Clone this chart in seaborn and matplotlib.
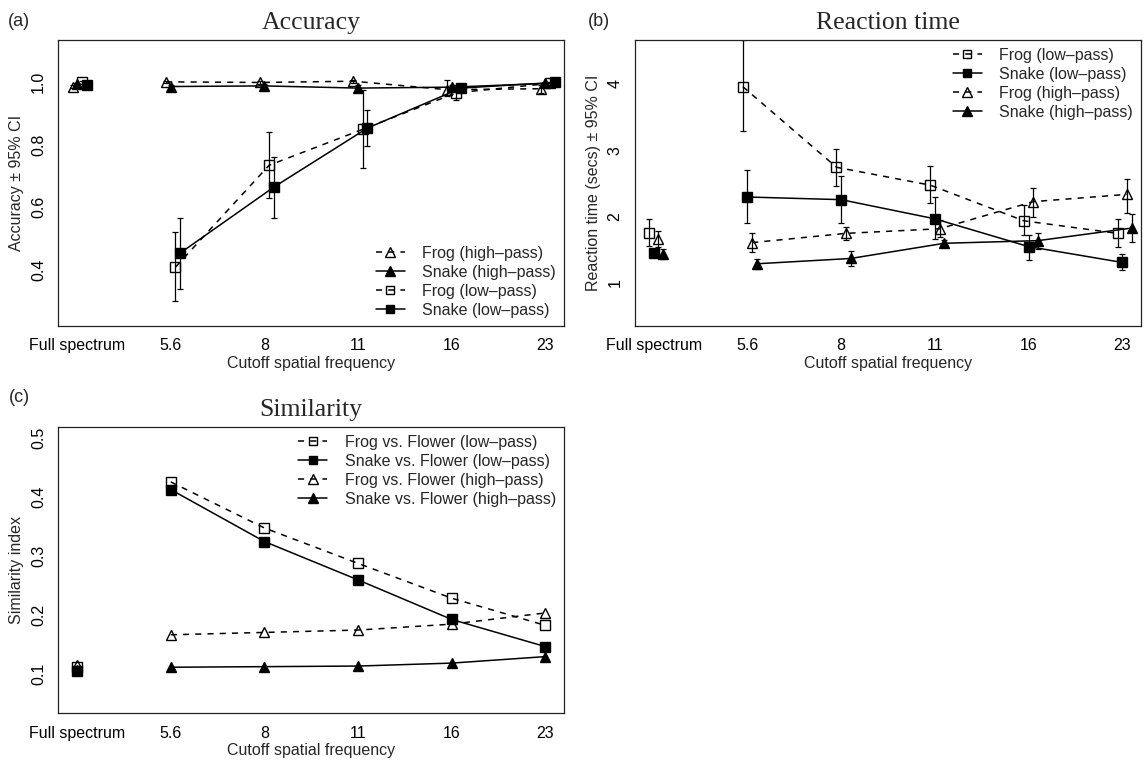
import numpy as np
import pandas as pd
import seaborn as sns
from matplotlib import pyplot as plt
from matplotlib.lines import Line2D

# カテゴリ (x軸)
cutoffs = ["Full spectrum", "5.6", "8", "11", "16", "23"]

# (a) Accuracy
acc_frog_hp = [0.985, 1.000, 0.998, 1.002, 0.975, 0.978]
acc_frog_hp_lo = [0.980, 0.995, 0.993, 0.997, 0.955, 0.965]
acc_frog_hp_hi = [0.990, 1.004, 1.002, 1.006, 1.006, 0.990]
acc_snake_hp = [0.992, 0.985, 0.987, 0.980, 0.983, 0.995]
acc_snake_hp_lo = [0.986, 0.978, 0.980, 0.970, 0.975, 0.990]
acc_snake_hp_hi = [0.997, 0.990, 0.992, 0.990, 0.990, 1.000]
acc_frog_lp = [0.998, 0.407, 0.733, 0.848, 0.965, 0.995]
acc_frog_lp_lo = [0.994, 0.297, 0.627, 0.724, 0.942, 0.990]
acc_frog_lp_hi = [1.002, 0.519, 0.840, 0.974, 0.990, 1.000]
acc_snake_lp = [0.990, 0.452, 0.663, 0.852, 0.980, 0.998]
acc_snake_lp_lo = [0.985, 0.338, 0.565, 0.796, 0.970, 0.995]
acc_snake_lp_hi = [0.995, 0.564, 0.758, 0.910, 0.990, 1.001]

# (b) Reaction time
rt_frog_lp = [1.75, 3.96, 2.74, 2.47, 1.93, 1.74]
rt_frog_lp_lo = [1.55, 3.29, 2.46, 2.20, 1.72, 1.53]
rt_frog_lp_hi = [1.95, 4.66, 3.015, 2.76, 2.17, 1.96]
rt_snake_lp = [1.44, 2.29, 2.25, 1.96, 1.54, 1.30]
rt_snake_lp_lo = [1.38, 1.90, 1.90, 1.65, 1.34, 1.18]
rt_snake_lp_hi = [1.51, 2.70, 2.61, 2.29, 1.71, 1.43]
rt_frog_hp = [1.65, 1.60, 1.74, 1.81, 2.22, 2.33]
rt_frog_hp_lo = [1.53, 1.46, 1.64, 1.69, 1.99, 2.05]
rt_frog_hp_hi = [1.78, 1.74, 1.84, 1.94, 2.43, 2.57]
rt_snake_hp = [1.43, 1.28, 1.36, 1.59, 1.63, 1.82]
rt_snake_hp_lo = [1.35, 1.20, 1.25, 1.53, 1.50, 1.61]
rt_snake_hp_hi = [1.51, 1.35, 1.48, 1.64, 1.75, 2.03]

# (c) Similarity
sim_frog_lp = [0.112, 0.425, 0.347, 0.287, 0.228, 0.182]
sim_snake_lp = [0.105, 0.412, 0.324, 0.259, 0.192, 0.146]
sim_frog_hp = [0.115, 0.166, 0.170, 0.174, 0.184, 0.203]
sim_snake_hp = [0.107, 0.111, 0.112, 0.113, 0.118, 0.129]

# スタイル
sns.set_style("white")
plt.rcParams["font.family"] = ["Liberation Sans", "DejaVu Sans"]
plt.rcParams["font.size"] = 11.5
FS = 11.5
SERIF = "Liberation Serif"

DASH = (0, (4, 4))
STYLE = {
    "frog_lp": dict(marker="s", mfc="none", ls=DASH, ms=6.5),
    "snake_lp": dict(marker="s", mfc="black", ls="-", ms=6.5),
    "frog_hp": dict(marker="^", mfc="none", ls=DASH, ms=7.5),
    "snake_hp": dict(marker="^", mfc="black", ls="-", ms=7.5),
}


def draw_series(ax, y, kind, shift, lo=None, hi=None):
    st = STYLE[kind]
    df = pd.DataFrame({"x": np.arange(len(y)) + shift, "y": y})
    common = dict(color="black", marker=st["marker"], markersize=st["ms"],
                  markerfacecolor=st["mfc"], markeredgecolor="black",
                  markeredgewidth=1.0, errorbar=None, ax=ax)
    # Full spectrum は単独の点
    sns.lineplot(data=df.iloc[:1], x="x", y="y", linestyle="none", **common)
    sns.lineplot(data=df.iloc[1:], x="x", y="y", linestyle=st["ls"],
                 linewidth=1.1, **common)
    if lo is not None:
        yv = np.array(y)
        err = np.vstack([yv - np.array(lo), np.array(hi) - yv])
        ax.errorbar(df["x"], yv, yerr=err, fmt="none", ecolor="black",
                    elinewidth=0.9, capsize=2.5, capthick=0.9)


def add_legend(ax, items, **kw):
    handles = []
    for kind, label in items:
        st = STYLE[kind]
        handles.append(Line2D([], [], color="black", linestyle=st["ls"], linewidth=1.1,
                              marker=st["marker"], markersize=st["ms"] - 1,
                              markerfacecolor=st["mfc"], markeredgecolor="black",
                              label=label))
    ax.legend(handles=handles, frameon=False, fontsize=FS, handlelength=1.8,
              handletextpad=1.1, labelspacing=0.25, borderpad=0.3, **kw)


def style_axes(ax, title, ylabel, ylim, yticks, ytick_labels):
    ax.set_xlim(-0.2, 5.2)
    ax.set_ylim(*ylim)
    ax.set_xticks(range(len(cutoffs)))
    ax.set_xticklabels(cutoffs)
    ax.set_yticks(yticks)
    ax.set_yticklabels(ytick_labels, rotation=90, va="center")
    ax.tick_params(direction="out", length=5.5, width=0.9, colors="black",
                   labelsize=FS, pad=3.5)
    ax.set_xlabel("Cutoff spatial frequency", fontsize=FS, labelpad=2)
    ax.set_ylabel(ylabel, fontsize=FS, labelpad=5)
    ax.set_title(title, fontfamily=SERIF, fontsize=18.5, pad=8)
    for sp in ax.spines.values():
        sp.set_color("#222222")
        sp.set_linewidth(0.9)


fig = plt.figure(figsize=(11.44, 7.6), dpi=100)
ax_a = fig.add_axes([0.0511, 0.5711, 0.4419, 0.3763])
ax_b = fig.add_axes([0.5551, 0.5711, 0.4423, 0.3763])
ax_c = fig.add_axes([0.0511, 0.0618, 0.4419, 0.3763])

# (a)
draw_series(ax_a, acc_frog_hp, "frog_hp", -0.05, acc_frog_hp_lo, acc_frog_hp_hi)
draw_series(ax_a, acc_snake_hp, "snake_hp", 0.0, acc_snake_hp_lo, acc_snake_hp_hi)
draw_series(ax_a, acc_frog_lp, "frog_lp", 0.05, acc_frog_lp_lo, acc_frog_lp_hi)
draw_series(ax_a, acc_snake_lp, "snake_lp", 0.10, acc_snake_lp_lo, acc_snake_lp_hi)
style_axes(ax_a, "Accuracy", "Accuracy ± 95% CI", (0.2187, 1.134),
           [0.4, 0.6, 0.8, 1.0], ["0.4", "0.6", "0.8", "1.0"])
add_legend(ax_a, [("frog_hp", "Frog (high–pass)"), ("snake_hp", "Snake (high–pass)"),
                  ("frog_lp", "Frog (low–pass)"), ("snake_lp", "Snake (low–pass)")],
           loc="lower right", bbox_to_anchor=(1.0, 0.0), borderaxespad=0.2)

# (b)
draw_series(ax_b, rt_frog_lp, "frog_lp", -0.05, rt_frog_lp_lo, rt_frog_lp_hi)
draw_series(ax_b, rt_snake_lp, "snake_lp", 0.0, rt_snake_lp_lo, rt_snake_lp_hi)
draw_series(ax_b, rt_frog_hp, "frog_hp", 0.05, rt_frog_hp_lo, rt_frog_hp_hi)
draw_series(ax_b, rt_snake_hp, "snake_hp", 0.10, rt_snake_hp_lo, rt_snake_hp_hi)
style_axes(ax_b, "Reaction time", "Reaction time (secs) ± 95% CI", (0.339, 4.666),
           [1, 2, 3, 4], ["1", "2", "3", "4"])
add_legend(ax_b, [("frog_lp", "Frog (low–pass)"), ("snake_lp", "Snake (low–pass)"),
                  ("frog_hp", "Frog (high–pass)"), ("snake_hp", "Snake (high–pass)")],
           loc="upper right", bbox_to_anchor=(1.0, 1.0), borderaxespad=0.2)

# (c)
draw_series(ax_c, sim_frog_lp, "frog_lp", 0.0)
draw_series(ax_c, sim_snake_lp, "snake_lp", 0.0)
draw_series(ax_c, sim_frog_hp, "frog_hp", 0.0)
draw_series(ax_c, sim_snake_hp, "snake_hp", 0.0)
style_axes(ax_c, "Similarity", "Similarity index", (0.0334, 0.518),
           [0.1, 0.2, 0.3, 0.4, 0.5], ["0.1", "0.2", "0.3", "0.4", "0.5"])
add_legend(ax_c, [("frog_lp", "Frog vs. Flower (low–pass)"),
                  ("snake_lp", "Snake vs. Flower (low–pass)"),
                  ("frog_hp", "Frog vs. Flower (high–pass)"),
                  ("snake_hp", "Snake vs. Flower (high–pass)")],
           loc="upper right", bbox_to_anchor=(1.0, 1.0), borderaxespad=0.2)

# パネル記号
fig.text(8 / 1144, 1 - 21 / 760, "(a)", fontsize=13, va="center", ha="left")
fig.text(588 / 1144, 1 - 21 / 760, "(b)", fontsize=13, va="center", ha="left")
fig.text(9 / 1144, 1 - 398 / 760, "(c)", fontsize=13, va="center", ha="left")

fig.savefig("out.png", dpi=100)
